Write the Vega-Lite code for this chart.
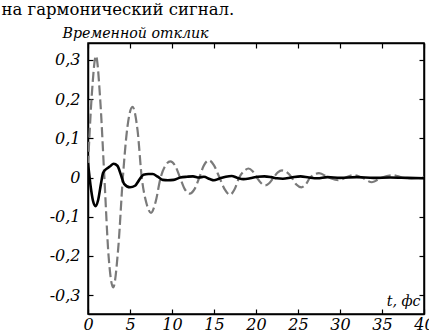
{
  "$schema": "https://vega.github.io/schema/vega-lite/v6.json",
  "width": 336,
  "height": 271,
  "autosize": {"type": "none"},
  "padding": {"left": 88, "top": 43, "right": 5, "bottom": 21},
  "background": "white",
  "config": {
    "view": {"stroke": "black", "strokeWidth": 1.5},
    "axis": {
      "grid": false,
      "domainColor": "black",
      "domainWidth": 1.5,
      "tickColor": "black",
      "tickWidth": 1.2,
      "tickSize": -5,
      "labelFont": "DejaVu Serif",
      "labelFontStyle": "italic",
      "labelFontSize": 16,
      "labelColor": "black",
      "titleFont": "DejaVu Serif",
      "titleFontStyle": "italic",
      "titleFontWeight": "normal",
      "titleFontSize": 14.2,
      "titleColor": "black"
    }
  },
  "datasets": {
    "curves": [
      {"t": 0, "y": 0.03, "s": "dashed"},
      {"t": 0.45, "y": 0.21, "s": "dashed"},
      {"t": 0.95, "y": 0.31, "s": "dashed"},
      {"t": 1.45, "y": 0.2, "s": "dashed"},
      {"t": 1.95, "y": 0.0, "s": "dashed"},
      {"t": 2.45, "y": -0.2, "s": "dashed"},
      {"t": 3.0, "y": -0.28, "s": "dashed"},
      {"t": 3.6, "y": -0.18, "s": "dashed"},
      {"t": 4.15, "y": 0.0, "s": "dashed"},
      {"t": 4.7, "y": 0.13, "s": "dashed"},
      {"t": 5.3, "y": 0.18, "s": "dashed"},
      {"t": 5.9, "y": 0.12, "s": "dashed"},
      {"t": 6.4, "y": 0.0, "s": "dashed"},
      {"t": 6.95, "y": -0.065, "s": "dashed"},
      {"t": 7.5, "y": -0.09, "s": "dashed"},
      {"t": 8.05, "y": -0.062, "s": "dashed"},
      {"t": 8.65, "y": 0.0, "s": "dashed"},
      {"t": 9.2, "y": 0.03, "s": "dashed"},
      {"t": 9.8, "y": 0.041, "s": "dashed"},
      {"t": 10.4, "y": 0.029, "s": "dashed"},
      {"t": 10.95, "y": 0.0, "s": "dashed"},
      {"t": 11.5, "y": -0.029, "s": "dashed"},
      {"t": 12.1, "y": -0.041, "s": "dashed"},
      {"t": 12.7, "y": -0.029, "s": "dashed"},
      {"t": 13.25, "y": 0.0, "s": "dashed"},
      {"t": 13.8, "y": 0.031, "s": "dashed"},
      {"t": 14.4, "y": 0.044, "s": "dashed"},
      {"t": 15.0, "y": 0.031, "s": "dashed"},
      {"t": 15.65, "y": 0.0, "s": "dashed"},
      {"t": 16.3, "y": -0.031, "s": "dashed"},
      {"t": 16.9, "y": -0.044, "s": "dashed"},
      {"t": 17.45, "y": -0.03, "s": "dashed"},
      {"t": 18.0, "y": 0.0, "s": "dashed"},
      {"t": 18.55, "y": 0.016, "s": "dashed"},
      {"t": 19.1, "y": 0.023, "s": "dashed"},
      {"t": 19.6, "y": 0.016, "s": "dashed"},
      {"t": 20.1, "y": 0.0, "s": "dashed"},
      {"t": 20.6, "y": -0.014, "s": "dashed"},
      {"t": 21.1, "y": -0.02, "s": "dashed"},
      {"t": 21.6, "y": -0.014, "s": "dashed"},
      {"t": 22.1, "y": 0.0, "s": "dashed"},
      {"t": 22.6, "y": 0.013, "s": "dashed"},
      {"t": 23.1, "y": 0.018, "s": "dashed"},
      {"t": 23.7, "y": 0.013, "s": "dashed"},
      {"t": 24.25, "y": 0.0, "s": "dashed"},
      {"t": 24.8, "y": -0.018, "s": "dashed"},
      {"t": 25.4, "y": -0.025, "s": "dashed"},
      {"t": 25.95, "y": -0.017, "s": "dashed"},
      {"t": 26.45, "y": 0.0, "s": "dashed"},
      {"t": 27.5, "y": 0.011, "s": "dashed"},
      {"t": 28.65, "y": 0.0, "s": "dashed"},
      {"t": 29.8, "y": -0.007, "s": "dashed"},
      {"t": 30.7, "y": 0.0, "s": "dashed"},
      {"t": 31.6, "y": 0.006, "s": "dashed"},
      {"t": 32.6, "y": 0.0, "s": "dashed"},
      {"t": 33.8, "y": -0.012, "s": "dashed"},
      {"t": 35.0, "y": 0.0, "s": "dashed"},
      {"t": 36.3, "y": 0.006, "s": "dashed"},
      {"t": 37.4, "y": 0.0, "s": "dashed"},
      {"t": 38.5, "y": -0.002, "s": "dashed"},
      {"t": 40, "y": 0.0, "s": "dashed"},
      {"t": 0, "y": 0.037, "s": "solid"},
      {"t": 0.3, "y": -0.02, "s": "solid"},
      {"t": 0.6, "y": -0.06, "s": "solid"},
      {"t": 0.9, "y": -0.073, "s": "solid"},
      {"t": 1.2, "y": -0.058, "s": "solid"},
      {"t": 1.55, "y": -0.015, "s": "solid"},
      {"t": 1.8, "y": 0.012, "s": "solid"},
      {"t": 2.2, "y": 0.022, "s": "solid"},
      {"t": 2.6, "y": 0.028, "s": "solid"},
      {"t": 3.05, "y": 0.035, "s": "solid"},
      {"t": 3.5, "y": 0.03, "s": "solid"},
      {"t": 3.9, "y": 0.008, "s": "solid"},
      {"t": 4.3, "y": -0.016, "s": "solid"},
      {"t": 5.0, "y": -0.025, "s": "solid"},
      {"t": 5.6, "y": -0.021, "s": "solid"},
      {"t": 6.1, "y": -0.006, "s": "solid"},
      {"t": 6.6, "y": 0.007, "s": "solid"},
      {"t": 7.2, "y": 0.009, "s": "solid"},
      {"t": 7.7, "y": 0.009, "s": "solid"},
      {"t": 8.3, "y": 0.002, "s": "solid"},
      {"t": 8.9, "y": -0.006, "s": "solid"},
      {"t": 9.5, "y": -0.007, "s": "solid"},
      {"t": 10.2, "y": -0.006, "s": "solid"},
      {"t": 11.0, "y": 0.0, "s": "solid"},
      {"t": 11.8, "y": 0.002, "s": "solid"},
      {"t": 12.5, "y": 0.003, "s": "solid"},
      {"t": 13.2, "y": 0.0, "s": "solid"},
      {"t": 13.8, "y": 0.002, "s": "solid"},
      {"t": 14.5, "y": -0.004, "s": "solid"},
      {"t": 15.0, "y": -0.007, "s": "solid"},
      {"t": 15.6, "y": -0.003, "s": "solid"},
      {"t": 16.4, "y": 0.002, "s": "solid"},
      {"t": 17.1, "y": 0.004, "s": "solid"},
      {"t": 17.8, "y": -0.001, "s": "solid"},
      {"t": 18.5, "y": -0.004, "s": "solid"},
      {"t": 19.3, "y": -0.002, "s": "solid"},
      {"t": 20.2, "y": 0.002, "s": "solid"},
      {"t": 21.0, "y": 0.003, "s": "solid"},
      {"t": 21.8, "y": 0.001, "s": "solid"},
      {"t": 22.5, "y": -0.002, "s": "solid"},
      {"t": 23.2, "y": -0.003, "s": "solid"},
      {"t": 24.2, "y": 0.0, "s": "solid"},
      {"t": 25.3, "y": 0.003, "s": "solid"},
      {"t": 26.3, "y": 0.0, "s": "solid"},
      {"t": 27.3, "y": -0.002, "s": "solid"},
      {"t": 28.5, "y": 0.001, "s": "solid"},
      {"t": 30, "y": -0.001, "s": "solid"},
      {"t": 32, "y": 0.001, "s": "solid"},
      {"t": 34, "y": -0.001, "s": "solid"},
      {"t": 36, "y": 0.0, "s": "solid"},
      {"t": 38, "y": -0.001, "s": "solid"},
      {"t": 40, "y": -0.002, "s": "solid"}
    ]
  },
  "data": {"name": "curves"},
  "resolve": {"axis": {"x": "independent", "y": "independent"}},
  "layer": [
    {
      "transform": [{"filter": "datum.s == 'dashed'"}],
      "mark": {"type": "line", "interpolate": "monotone", "color": "#7a7a7a", "strokeWidth": 2.2, "strokeDash": [10, 4], "clip": true},
      "encoding": {
        "x": {
          "field": "t", "type": "quantitative",
          "scale": {"domain": [0, 40], "nice": false, "zero": false},
          "axis": {
            "orient": "bottom",
            "values": [0, 5, 10, 15, 20, 25, 30, 35, 40],
            "labelPadding": 7,
            "labelFlush": false,
            "labelOverlap": false,
            "title": "t, фс",
            "titleAlign": "right",
            "titleBaseline": "alphabetic",
            "titleAnchor": null,
            "titleX": 332,
            "titleY": -9
          }
        },
        "y": {
          "field": "y", "type": "quantitative",
          "scale": {"domain": [-0.348, 0.343], "nice": false, "zero": false},
          "axis": {
            "orient": "left",
            "values": [-0.3, -0.2, -0.1, 0, 0.1, 0.2, 0.3],
            "labelPadding": 13,
            "labelFlush": false,
            "labelOverlap": false,
            "labelExpr": "datum.value == 0 ? '0' : replace(replace(format(datum.value, '.1f'), '.', ','), '\u2212', '-')",
            "title": "Временной отклик",
            "titleAngle": 0,
            "titleAlign": "left",
            "titleBaseline": "alphabetic",
            "titleAnchor": null,
            "titleX": -26,
            "titleY": -6
          }
        }
      }
    },
    {
      "transform": [{"filter": "datum.s == 'solid'"}],
      "mark": {"type": "line", "interpolate": "monotone", "color": "black", "strokeWidth": 2.6, "clip": true},
      "encoding": {
        "x": {
          "field": "t", "type": "quantitative",
          "axis": {
            "orient": "top",
            "values": [0, 5, 10, 15, 20, 25, 30, 35, 40],
            "labels": false,
            "title": "на гармонический сигнал.",
            "titleFont": "DejaVu Serif",
            "titleFontStyle": "normal",
            "titleFontWeight": "normal",
            "titleFontSize": 16.5,
            "titleAngle": 0,
            "titleAlign": "left",
            "titleBaseline": "alphabetic",
            "titleAnchor": null,
            "titleX": -87,
            "titleY": -29
          }
        },
        "y": {
          "field": "y", "type": "quantitative",
          "axis": {"orient": "right", "values": [-0.3, -0.2, -0.1, 0, 0.1, 0.2, 0.3], "labels": false, "title": null}
        }
      }
    }
  ]
}
